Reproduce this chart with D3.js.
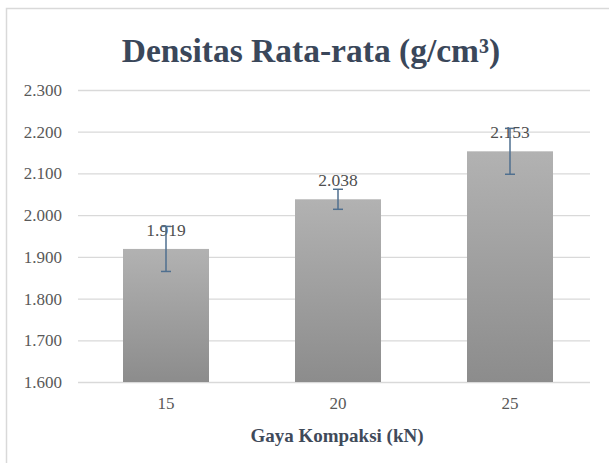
<!DOCTYPE html>
<html>
<head>
<meta charset="utf-8">
<script src="https://cdn.jsdelivr.net/npm/d3@7"></script>
<style>
  html, body { margin: 0; padding: 0; background: #fff; }
  svg { display: block; }
  .serif { font-family: "Liberation Serif", "Times New Roman", Times, "DejaVu Serif", serif; }
</style>
</head>
<body>
<svg id="chart" width="609" height="463"></svg>
<script>
// data
const categories = ["15", "20", "25"];
const densities = [1.919, 2.038, 2.153];
const errors = [0.054, 0.024, 0.055];
const yTicks = [1.6, 1.7, 1.8, 1.9, 2.0, 2.1, 2.2, 2.3];

const W = 609, H = 463;
const margin = { top: 90, right: 19, bottom: 81, left: 78 };

const svg = d3.select("#chart");

// outer frame of the chart area (right edge runs off the picture)
svg.append("path")
    .attr("d", `M6.5,${H} V8.5 H${W}`)
    .attr("fill", "none")
    .attr("stroke", "#d9d9d9")
    .attr("stroke-width", 1.5);

// bands are a touch wider than the gridlines in the original
const x = d3.scaleBand()
    .domain(categories)
    .range([80, 596])
    .paddingInner(0.5)
    .paddingOuter(0.25);

const y = d3.scaleLinear()
    .domain([1.6, 2.3])
    .range([H - margin.bottom, margin.top]);

// gradient for the bars, light on top
const defs = svg.append("defs");
const grad = defs.append("linearGradient")
    .attr("id", "barGrad")
    .attr("x1", 0).attr("y1", 0).attr("x2", 0).attr("y2", 1);
grad.append("stop").attr("offset", "0%").attr("stop-color", "#b2b2b2");
grad.append("stop").attr("offset", "100%").attr("stop-color", "#8c8c8c");

// gridlines + y labels
const yAxis = d3.axisLeft(y)
    .tickValues(yTicks)
    .tickSize(-(W - margin.right - margin.left))
    .tickPadding(16)
    .tickFormat(d3.format(".3f"));

const gy = svg.append("g")
    .attr("transform", `translate(${margin.left},0)`)
    .call(yAxis)
    .attr("font-family", null);
gy.select(".domain").remove();
gy.selectAll(".tick line").attr("stroke", "#d9d9d9").attr("stroke-width", 1.3);
gy.selectAll(".tick text")
    .attr("class", "serif")
    .attr("fill", "#595959")
    .style("font-size", "17px");

// bars
const gBars = svg.append("g");
gBars.selectAll("rect")
    .data(densities)
    .join("rect")
    .attr("x", (d, i) => x(categories[i]))
    .attr("y", d => y(d))
    .attr("width", x.bandwidth())
    .attr("height", d => y(1.6) - y(d))
    .attr("fill", "url(#barGrad)");

// data labels
gBars.selectAll("text.lbl")
    .data(densities)
    .join("text")
    .attr("class", "serif")
    .attr("x", (d, i) => x(categories[i]) + x.bandwidth() / 2)
    .attr("y", d => y(d) - 13)
    .attr("text-anchor", "middle")
    .attr("fill", "#505050")
    .style("font-size", "17.5px")
    .text(d => d3.format(".3f")(d));

// error bars (drawn over labels, like the original)
const eb = svg.append("g")
    .attr("stroke", "#4f6f8f")
    .attr("stroke-width", 1.5)
    .attr("fill", "none");
densities.forEach((d, i) => {
    const cx = x(categories[i]) + x.bandwidth() / 2;
    const y0 = y(d - errors[i]), y1 = y(d + errors[i]);
    eb.append("line").attr("x1", cx).attr("x2", cx).attr("y1", y0).attr("y2", y1);
    eb.append("line").attr("x1", cx - 5).attr("x2", cx + 5).attr("y1", y0).attr("y2", y0);
    eb.append("line").attr("x1", cx - 5).attr("x2", cx + 5).attr("y1", y1).attr("y2", y1);
});

// x axis labels
const gx = svg.append("g")
    .attr("transform", `translate(0,${H - margin.bottom})`)
    .call(d3.axisBottom(x).tickSize(0).tickPadding(15))
    .attr("font-family", null);
gx.select(".domain").remove();
gx.selectAll(".tick text")
    .attr("class", "serif")
    .attr("fill", "#595959")
    .style("font-size", "17px");

// titles
svg.append("text")
    .attr("class", "serif")
    .attr("x", 311)
    .attr("y", 62)
    .attr("text-anchor", "middle")
    .attr("fill", "#3a475a")
    .style("font-weight", "bold")
    .style("font-size", "33.5px")
    .text("Densitas Rata-rata (g/cm³)");

svg.append("text")
    .attr("class", "serif")
    .attr("x", 337)
    .attr("y", 442)
    .attr("text-anchor", "middle")
    .attr("fill", "#3f4a5a")
    .style("font-weight", "bold")
    .style("font-size", "19px")
    .text("Gaya Kompaksi (kN)");
</script>
</body>
</html>
